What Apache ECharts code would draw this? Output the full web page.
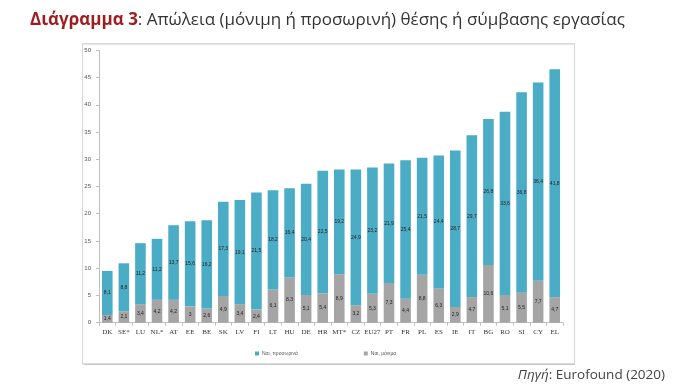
<!DOCTYPE html>
<html>
<head>
<meta charset="utf-8">
<script src="https://cdn.jsdelivr.net/npm/echarts@6/dist/echarts.min.js"></script>
<style>
html,body{margin:0;padding:0;background:#fff;}
#chart{width:685px;height:391px;}
</style>
</head>
<body>
<div id="chart"></div>
<script>
const categories = ['DK','SE*','LU','NL*','AT','EE','BE','SK','LV','FI','LT','HU','DE','HR','MT*','CZ','EU27','PT','FR','PL','ES','IE','IT','BG','RO','SI','CY','EL'];
const permanent = [1.4,2.1,3.4,4.2,4.2,3,2.6,4.9,3.4,2.4,6.1,8.3,5.1,5.4,8.9,3.2,5.3,7.3,4.4,8.8,6.3,2.9,4.7,10.6,5.1,5.5,7.7,4.7];
const temporary = [8.1,8.8,11.2,11.2,13.7,15.6,16.2,17.3,19.1,21.5,18.2,16.4,20.4,22.5,19.2,24.9,23.2,21.9,25.4,21.5,24.4,28.7,29.7,26.8,33.6,36.8,36.4,41.8];
const yTicks = [0,5,10,15,20,25,30,35,40,45,50];
const seriesNames = ['Ναι, προσωρινά','Ναι, μόνιμα'];

const fmt = p => String(p.value).replace('.', ',');

const chart = echarts.init(document.getElementById('chart'), null, {renderer:'canvas'});
chart.setOption({
  animation:false,
  backgroundColor:'#fff',
  title:{
    left:25, top:7,
    text:'{a|Διάγραμμα 3}{b|: Απώλεια (μόνιμη ή προσωρινή) θέσης ή σύμβασης εργασίας}',
    textStyle:{
      fontWeight:'normal',
      rich:{
        a:{fontFamily:'Open Sans', fontSize:17, fontWeight:'bold', color:'#9e1b1e'},
        b:{fontFamily:'Open Sans', fontSize:17, fontWeight:'normal', color:'#333333'}
      }
    }
  },
  graphic:[
    {type:'rect', z:-10, shape:{x:82.5,y:43.5,width:492,height:320},
     style:{fill:'#fff', stroke:'#d9d9d9', lineWidth:1, shadowColor:'rgba(0,0,0,0.12)', shadowBlur:1, shadowOffsetY:1}},
    {type:'text', right:20, top:368,
     style:{text:'{i|Πηγή}{n|: Eurofound (2020)}', rich:{
       i:{fontFamily:'Open Sans', fontStyle:'italic', fontSize:13.5, fill:'#444'},
       n:{fontFamily:'Open Sans', fontSize:13.5, fill:'#444'}}}}
  ],
  legend:{
    data:seriesNames,
    left:250, top:346,
    itemWidth:4, itemHeight:4, itemGap:66,
    icon:'rect',
    textStyle:{fontSize:5, color:'#555', fontFamily:'Liberation Sans', padding:[0,0,0,-2]}
  },
  grid:{left:99, right:122, top:50.3, bottom:68.3, containLabel:false},
  xAxis:{
    type:'category', data:categories,
    axisLine:{lineStyle:{color:'#bfbfbf'}},
    axisTick:{show:true, alignWithLabel:false, length:3, lineStyle:{color:'#bfbfbf'}},
    axisLabel:{fontFamily:'Liberation Serif', fontSize:7, color:'#333', margin:6, interval:0}
  },
  yAxis:{
    type:'value', min:0, max:50, interval:5,
    axisLine:{show:true, lineStyle:{color:'#bfbfbf'}},
    axisTick:{show:true, length:3, lineStyle:{color:'#bfbfbf'}},
    splitLine:{show:false},
    axisLabel:{fontFamily:'Liberation Sans', fontSize:6, color:'#555', margin:8}
  },
  series:[
    {name:seriesNames[1], type:'bar', stack:'t', data:permanent, barCategoryGap:'36%',
     itemStyle:{color:'#a5a5a5'},
     label:{show:true, position:'inside', fontSize:5, color:'#222', fontFamily:'Liberation Sans', formatter:fmt}},
    {name:seriesNames[0], type:'bar', stack:'t', data:temporary, barCategoryGap:'36%',
     itemStyle:{color:'#4bacc6'},
     label:{show:true, position:'inside', fontSize:5, color:'#222', fontFamily:'Liberation Sans', formatter:fmt}}
  ]
});
</script>
</body>
</html>
